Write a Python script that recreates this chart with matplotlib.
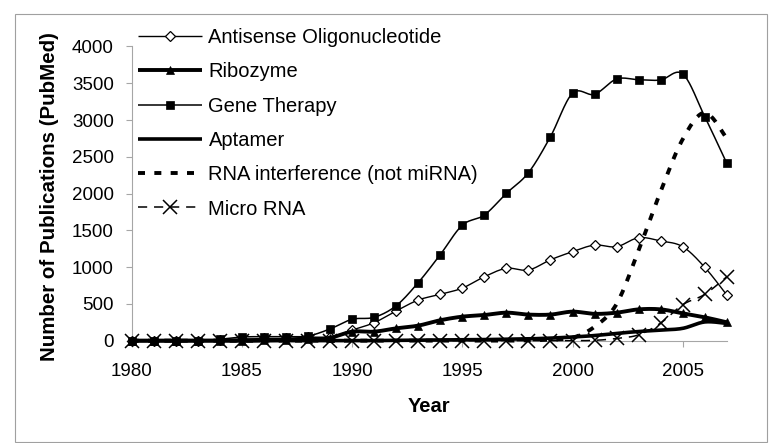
import numpy as np
import matplotlib
matplotlib.use("Agg")
import matplotlib.pyplot as plt
from matplotlib.lines import Line2D
from matplotlib.patches import Rectangle

years = list(range(1980, 2008))

antisense = [0, 0, 0, 0, 5, 20, 30, 30, 50, 47, 145, 245, 404, 553, 630, 715,
             870, 984, 961, 1100, 1210, 1300, 1278, 1400, 1356, 1278, 998, 621]
ribozyme = [0, 0, 0, 0, 0, 0, 5, 10, 20, 40, 123, 123, 168, 205, 278, 327,
            349, 381, 355, 355, 395, 365, 381, 426, 426, 372, 318, 250]
gene_therapy = [0, 0, 0, 0, 20, 50, 55, 55, 64, 160, 291, 318, 476, 790, 1170, 1570,
                1709, 2004, 2284, 2774, 3364, 3350, 3558, 3548, 3545, 3626, 3046, 2412]
aptamer = [0, 0, 0, 0, 0, 0, 0, 0, 0, 0, 0, 2, 5, 8, 10, 12,
           15, 20, 25, 35, 50, 70, 100, 125, 145, 168, 255, 235]
rnai = [0, 0, 0, 0, 0, 0, 0, 0, 0, 0, 0, 0, 0, 0, 0, 0,
        0, 0, 5, 15, 40, 190, 500, 1230, 2030, 2740, 3100, 2750]
mirna = [0, 0, 0, 0, 0, 0, 0, 0, 0, 0, 0, 0, 0, 0, 0, 0,
         0, 0, 0, 0, 0, 5, 30, 80, 240, 490, 630, 870]

labels = ["Antisense Oligonucleotide", "Ribozyme", "Gene Therapy", "Aptamer",
          "RNA interference (not miRNA)", "Micro RNA"]

plt.rcParams['font.family'] = ['Liberation Sans', 'DejaVu Sans']

W, H = 779, 443
fig = plt.figure(figsize=(W / 100, H / 100), dpi=100)
ax = fig.add_axes([131.7 / W, 1 - 340.7 / H, (726.8 - 131.7) / W, (340.7 - 46.5) / H])


def smooth(xs, ys, n=24):
    x = np.asarray(xs, float)
    y = np.asarray(ys, float)
    px = np.concatenate([[x[0]], x, [x[-1]]])
    py = np.concatenate([[y[0]], y, [y[-1]]])
    outx, outy = [], []
    t = np.linspace(0, 1, n)
    for i in range(len(x) - 1):
        p0 = np.array([px[i + 1], py[i + 1]])
        p3 = np.array([px[i + 2], py[i + 2]])
        c1 = p0 + (np.array([px[i + 2], py[i + 2]]) - np.array([px[i], py[i]])) / 6
        c2 = p3 - (np.array([px[i + 3], py[i + 3]]) - np.array([px[i + 1], py[i + 1]])) / 6
        bx = (1 - t) ** 3 * p0[0] + 3 * (1 - t) ** 2 * t * c1[0] + 3 * (1 - t) * t ** 2 * c2[0] + t ** 3 * p3[0]
        by = (1 - t) ** 3 * p0[1] + 3 * (1 - t) ** 2 * t * c1[1] + 3 * (1 - t) * t ** 2 * c2[1] + t ** 3 * p3[1]
        if i > 0:
            bx, by = bx[1:], by[1:]
        outx.extend(bx)
        outy.extend(by)
    return np.array(outx), np.array(outy)


styles = [
    dict(data=antisense, lw=1.0, ls='-', marker='D', ms=4.6, mfc='white', mec='black', mew=0.9),
    dict(data=ribozyme, lw=2.8, ls='-', marker='^', ms=6.0, mfc='black', mec='black', mew=0.5),
    dict(data=gene_therapy, lw=1.1, ls='-', marker='s', ms=5.3, mfc='black', mec='black', mew=0.5),
    dict(data=aptamer, lw=2.6, ls='-', marker=None, ms=0, mfc='black', mec='black', mew=0),
    dict(data=rnai, lw=2.8, ls=(0, (1.8, 2.4)), marker=None, ms=0, mfc='black', mec='black', mew=0),
    dict(data=mirna, lw=1.1, ls=(0, (6, 4.5)), marker='x', ms=9.5, mfc='black', mec='black', mew=1.1),
]

handles = []
for i, (st, lab) in enumerate(zip(styles, labels)):
    sx, sy = smooth(years, st['data'])
    ax.plot(sx, sy, color='black', lw=st['lw'], ls=st['ls'], zorder=3 + i,
            clip_on=False, solid_capstyle='butt', dash_capstyle='butt')
    if st['marker']:
        ax.plot(years, st['data'], ls='none', marker=st['marker'], ms=st['ms'],
                mfc=st['mfc'], mec=st['mec'], mew=st['mew'], zorder=3 + i, clip_on=False)
    handles.append(Line2D([], [], color='black', lw=st['lw'], ls=st['ls'],
                          marker=st['marker'] if st['marker'] else None,
                          ms=st['ms'], mfc=st['mfc'], mec=st['mec'], mew=st['mew'],
                          solid_capstyle='butt', dash_capstyle='butt'))

ax.set_xlim(1980, 2007)
ax.set_ylim(0, 4000)
ax.set_xticks([1980, 1985, 1990, 1995, 2000, 2005])
ax.set_yticks(np.arange(0, 4001, 500))
ax.tick_params(axis='y', length=4.3, width=0.8, color='#a6a6a6', pad=8.5, labelsize=13.5)
ax.tick_params(axis='x', length=4.3, width=0.8, color='#a6a6a6', pad=11.5, labelsize=13.5)
for s in ['top', 'right']:
    ax.spines[s].set_visible(False)
for s in ['left', 'bottom']:
    ax.spines[s].set_color('#a6a6a6')
    ax.spines[s].set_linewidth(0.8)
ax.patch.set_alpha(0)

leg = fig.legend(handles, labels, loc='upper left', bbox_to_anchor=(138 / W, 1 - 28 / H),
                 frameon=False, fontsize=14.5, handlelength=3.2, handletextpad=0.3,
                 labelspacing=0.76, borderpad=0, borderaxespad=0, numpoints=1)

fig.text(50 / W, 1 - 197 / H, "Number of Publications (PubMed)", rotation=90,
         ha='center', va='center', fontsize=14.8, fontweight='bold')
fig.text(429 / W, 1 - 406 / H, "Year", ha='center', va='center', fontsize=14.5, fontweight='bold')

fig.patches.append(Rectangle((15 / W, 1 - 441.5 / H), (766.5 - 15) / W, (441.5 - 14) / H,
                             transform=fig.transFigure, fill=False, edgecolor='#a0a0a0', lw=0.8))

fig.savefig("out.png", dpi=100)
